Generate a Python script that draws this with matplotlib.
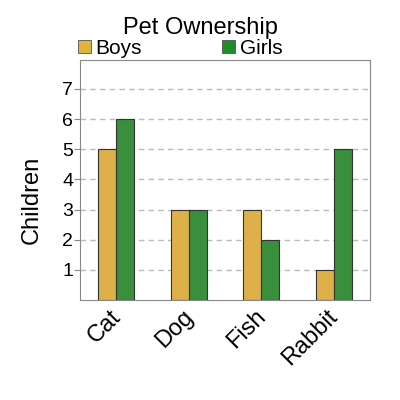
import numpy as np
import matplotlib.pyplot as plt
import matplotlib.transforms as mtransforms
from matplotlib.patches import Patch

plt.rcParams['font.family'] = ['Liberation Sans', 'DejaVu Sans']

pets = ["Cat", "Dog", "Fish", "Rabbit"]
boys = [5, 3, 3, 1]
girls = [6, 3, 2, 5]
y_ticks = [1, 2, 3, 4, 5, 6, 7]

boys_color = "#DDB04A"
girls_color = "#3A8F3C"

fig = plt.figure(figsize=(4, 4), dpi=100)
ax = fig.add_axes([0.20, 0.25, 0.725, 0.60])

x = np.arange(len(pets))
width = 0.25
ax.bar(x - width / 2, boys, width, color=boys_color, edgecolor="#333333", linewidth=0.8, zorder=2)
ax.bar(x + width / 2, girls, width, color=girls_color, edgecolor="#333333", linewidth=0.8, zorder=2)

ax.set_xlim(-0.5, len(pets) - 0.5)
ax.set_ylim(0, 7.96)
ax.set_yticks(y_ticks)
ax.set_yticklabels([str(v) for v in y_ticks], fontsize=14)
ax.yaxis.grid(True, color="#BBBBBB", linestyle=(0, (4, 3)), linewidth=1.0, zorder=0)
ax.set_axisbelow(True)

ax.set_xticks(x)
ax.set_xticklabels(pets, fontsize=17, rotation=45, ha="right", va="top", rotation_mode="anchor")
ax.tick_params(axis="x", length=0, pad=4)
ax.tick_params(axis="y", length=4, color="#888888", pad=1)
shift = mtransforms.ScaledTranslation(-5 / 72, 0, fig.dpi_scale_trans)
for lbl in ax.get_xticklabels():
    lbl.set_transform(lbl.get_transform() + shift)
for spine in ax.spines.values():
    spine.set_color("#888888")

ax.set_ylabel("Children", fontsize=17)
ax.yaxis.set_label_coords(-0.128, 0.417)
fig.text(0.5, 0.93, "Pet Ownership", ha="center", va="center", fontsize=17)

handles = [
    Patch(facecolor="#E0B43C", edgecolor="#555555", linewidth=0.6, label="Boys"),
    Patch(facecolor="#1E8C28", edgecolor="#555555", linewidth=0.6, label="Girls"),
]
fig.legend(handles=handles, ncol=2, loc="center left", bbox_to_anchor=(0.195, 0.88),
           frameon=False, fontsize=15, handlelength=0.6, handleheight=0.6,
           handletextpad=0.25, columnspacing=3.85, borderaxespad=0, borderpad=0)

fig.savefig("out.png", dpi=100)
